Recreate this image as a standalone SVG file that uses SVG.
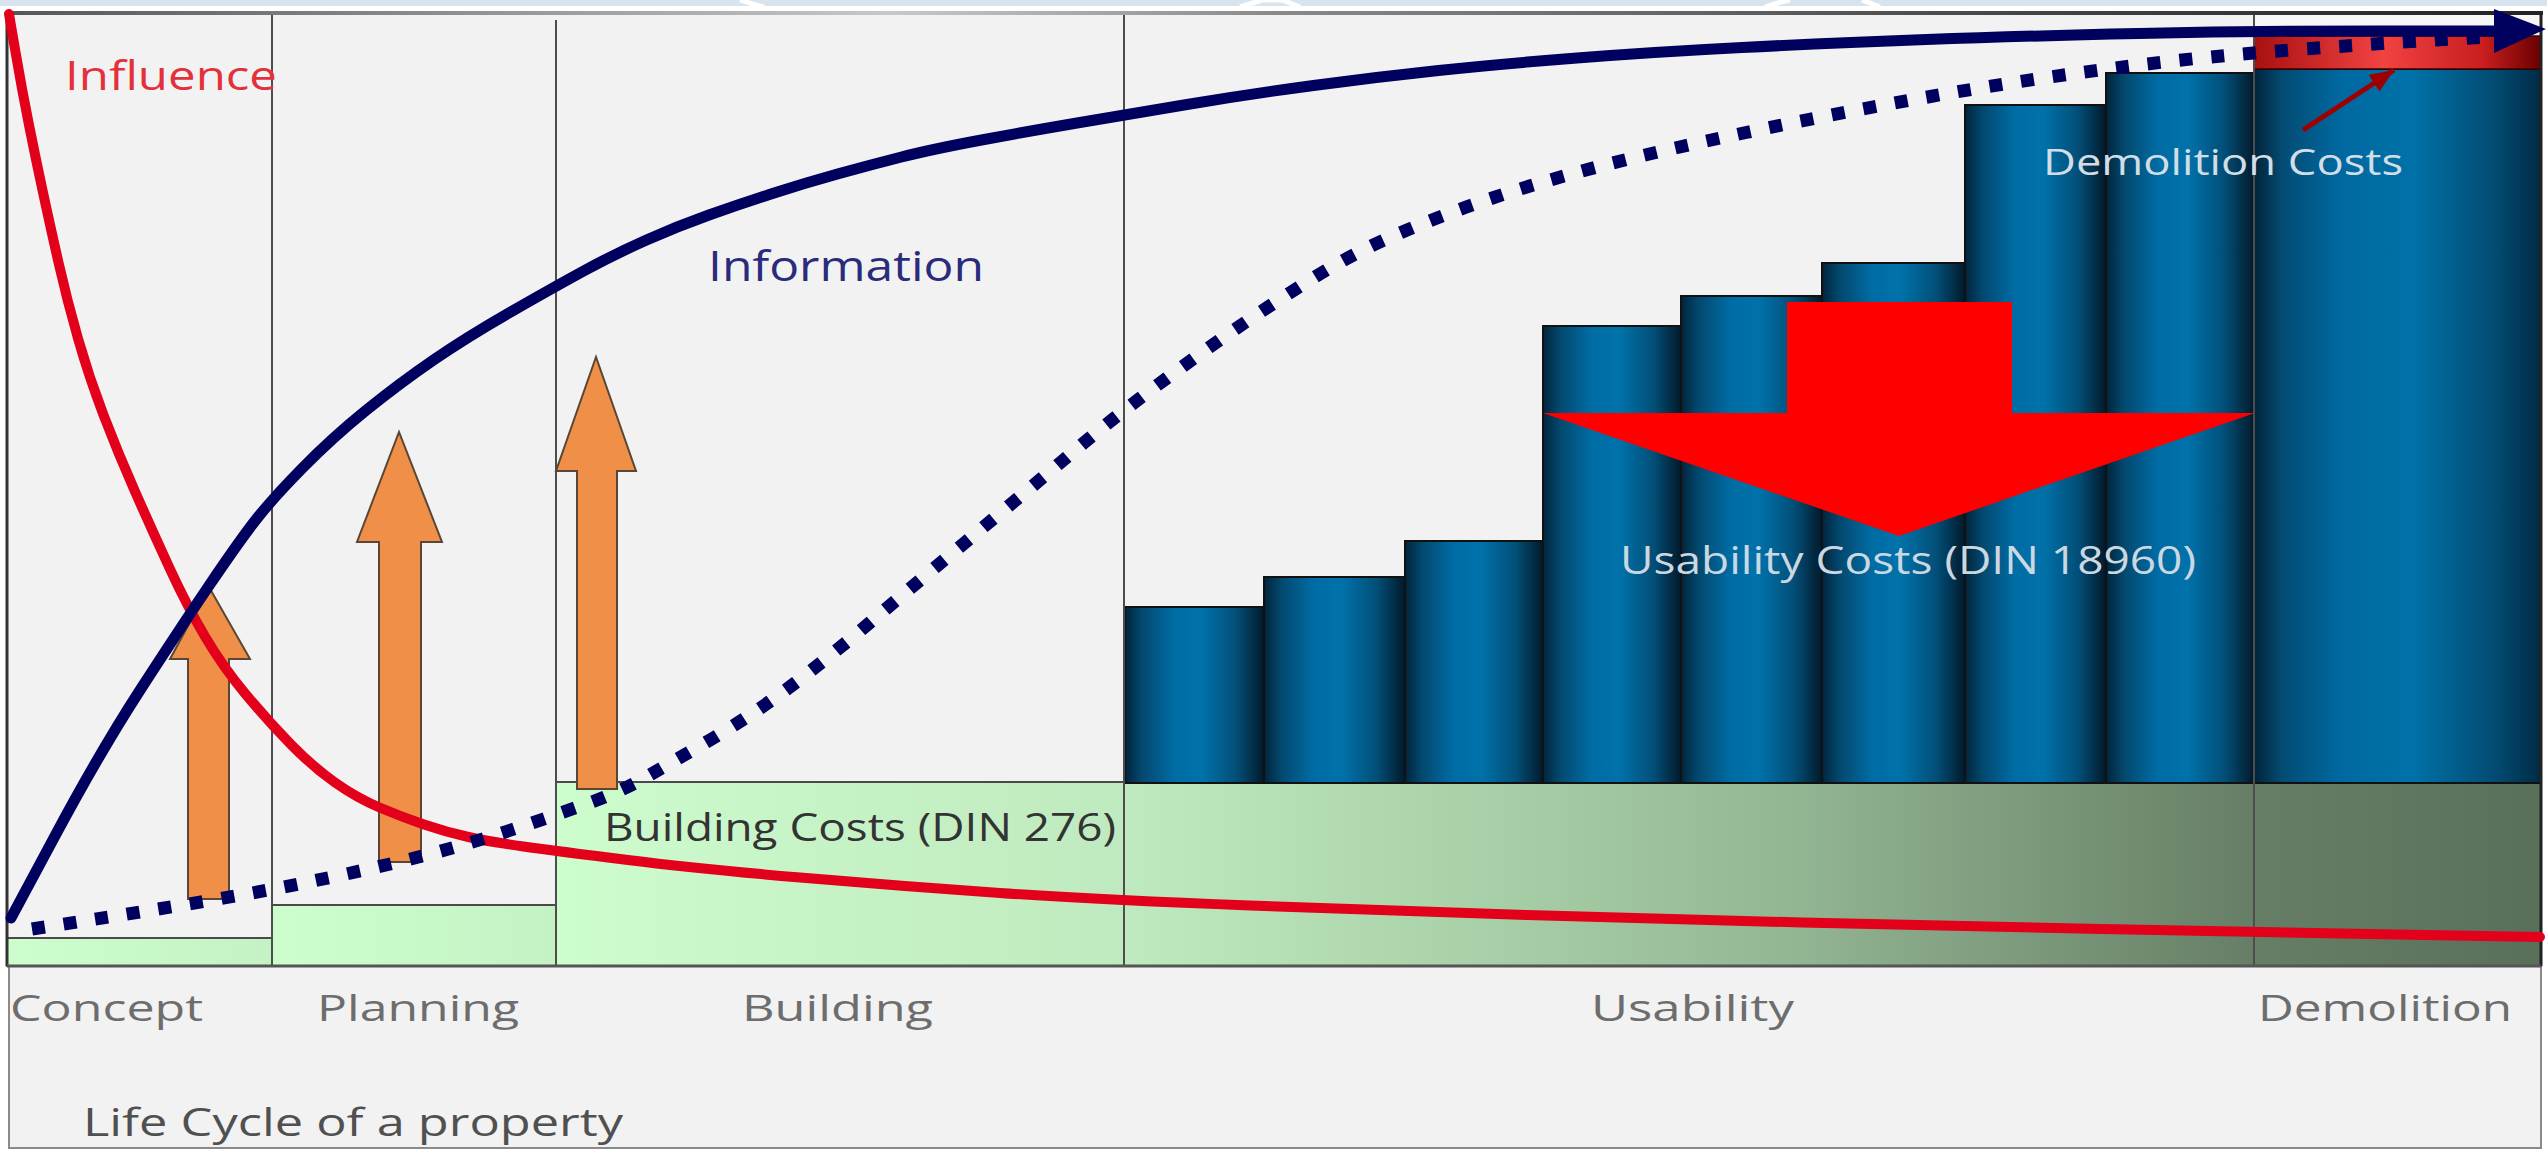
<svg xmlns="http://www.w3.org/2000/svg" width="2547" height="1153" viewBox="0 0 2547 1153">
<style>
 text{font-family:"Open Sans","Noto Sans","Liberation Sans",sans-serif;}
 .phase{font-size:36px;fill:#6d6d6d;}
 .bar{fill:url(#gBar);stroke:#111;stroke-width:2;}
 .green{stroke:#4a4a4a;stroke-width:2;}
 .vline{stroke:#4d4d4d;stroke-width:2;fill:none;}
 .orange{fill:#f08f48;stroke:#5a4636;stroke-width:2;stroke-linejoin:miter;}
 .navy{fill:none;stroke:#00005e;stroke-width:11;stroke-linejoin:round;stroke-linecap:round;}
 .dotted{fill:none;stroke:#00005e;stroke-width:13;stroke-dasharray:13 19;stroke-linejoin:round;}
 .red{fill:none;stroke:#e2001a;stroke-width:10;stroke-linejoin:round;stroke-linecap:round;}
</style>
<defs>
 <linearGradient id="gBar" x1="0" x2="1" y1="0" y2="0">
  <stop offset="0" stop-color="#01243b"/>
  <stop offset="0.12" stop-color="#03486e"/>
  <stop offset="0.35" stop-color="#006ca4"/>
  <stop offset="0.55" stop-color="#0072aa"/>
  <stop offset="0.8" stop-color="#024f78"/>
  <stop offset="1" stop-color="#021a2b"/>
 </linearGradient>
 <linearGradient id="gBarWide" x1="0" x2="1" y1="0" y2="0">
  <stop offset="0" stop-color="#01233a"/>
  <stop offset="0.1" stop-color="#034c74"/>
  <stop offset="0.3" stop-color="#0068a0"/>
  <stop offset="0.55" stop-color="#0072a9"/>
  <stop offset="0.85" stop-color="#024a70"/>
  <stop offset="1" stop-color="#012a44"/>
 </linearGradient>
 <linearGradient id="gRedBand" x1="0" x2="1" y1="0" y2="0">
  <stop offset="0" stop-color="#a81010"/>
  <stop offset="0.45" stop-color="#f24242"/>
  <stop offset="0.8" stop-color="#c81e1e"/>
  <stop offset="1" stop-color="#6a0000"/>
 </linearGradient>
 <linearGradient id="gGreenL" x1="0" x2="1" y1="0" y2="0">
  <stop offset="0" stop-color="#cdfdcd"/>
  <stop offset="1" stop-color="#c4f2c4"/>
 </linearGradient>
 <linearGradient id="gGreen" gradientUnits="userSpaceOnUse" x1="556" y1="0" x2="2541" y2="0">
  <stop offset="0" stop-color="#cdfccd"/>
  <stop offset="0.286" stop-color="#bfeabf"/>
  <stop offset="0.476" stop-color="#a7cfa7"/>
  <stop offset="0.627" stop-color="#92b592"/>
  <stop offset="0.855" stop-color="#667e66"/>
  <stop offset="1" stop-color="#5a6f5a"/>
 </linearGradient>
 <linearGradient id="gTop" gradientUnits="userSpaceOnUse" x1="0" y1="0" x2="2547" y2="0">
  <stop offset="0" stop-color="#555"/>
  <stop offset="0.35" stop-color="#c8c8c8"/>
  <stop offset="0.5" stop-color="#8a8a8a"/>
  <stop offset="0.8" stop-color="#444"/>
  <stop offset="1" stop-color="#222"/>
 </linearGradient>
 <marker id="mNavy" markerUnits="userSpaceOnUse" markerWidth="54" markerHeight="48" refX="2" refY="22" orient="auto">
  <path d="M0,0 L52,20 L0,44 Z" fill="#00005e"/>
 </marker>
 <marker id="mRed" markerUnits="userSpaceOnUse" markerWidth="26" markerHeight="22" refX="24" refY="10" orient="auto">
  <path d="M0,0 L24,10 L0,20 Z" fill="#9e0000"/>
 </marker>
</defs>

<rect x="0" y="0" width="2547" height="1153" fill="#ffffff"/>
<g id="top-strip">
 <rect x="0" y="0" width="2547" height="6" fill="#d7e4ee"/>
 <path d="M740,0 Q752,4 764,7" stroke="#fff" stroke-width="5" fill="none"/>
 <path d="M1240,7 L1262,0 L1282,0 L1300,7" stroke="#fff" stroke-width="5" fill="none"/>
 <path d="M1765,7 Q1780,2 1790,0 M1862,0 L1880,7" stroke="#fff" stroke-width="5" fill="none"/>
</g>

<g id="chart-bg">
 <rect x="7" y="13" width="2534" height="953" fill="#f2f2f2"/>
 <rect x="2254" y="13" width="287" height="25" fill="#f7f7f7"/>
</g>

<g id="label-area">
 <rect x="9" y="966" width="2532" height="182" fill="#f2f2f2" stroke="#8a8a8a" stroke-width="2"/>
</g>

<g id="cost-concept"><rect class="green" x="7" y="938" width="265" height="28" fill="url(#gGreenL)"/></g>
<g id="cost-planning"><rect class="green" x="272" y="905" width="284" height="61" fill="url(#gGreenL)"/></g>
<g id="building-costs">
 <rect class="green" x="556" y="782" width="568" height="184" fill="url(#gGreen)"/>
 <text x="604" y="841" font-size="39" fill="#333333" textLength="512" lengthAdjust="spacingAndGlyphs">Building Costs (DIN 276)</text>
</g>
<g id="cost-usability-base"><rect class="green" x="1124" y="783" width="1130" height="183" fill="url(#gGreen)"/></g>
<g id="cost-demolition-base"><rect class="green" x="2254" y="783" width="287" height="183" fill="url(#gGreen)"/></g>

<g id="usability-bars">
 <rect class="bar" x="1125" y="607" width="139" height="176"/>
 <rect class="bar" x="1264" y="577" width="141" height="206"/>
 <rect class="bar" x="1405" y="541" width="138" height="242"/>
 <rect class="bar" x="1543" y="326" width="138" height="457"/>
 <rect class="bar" x="1681" y="296" width="141" height="487"/>
 <rect class="bar" x="1822" y="263" width="143" height="520"/>
 <rect class="bar" x="1965" y="105" width="141" height="678"/>
 <rect class="bar" x="2106" y="73" width="148" height="710"/>
</g>

<g id="demolition-bar">
 <rect x="2254" y="69" width="287" height="714" fill="url(#gBarWide)" stroke="#111" stroke-width="2"/>
 <rect x="2254" y="36" width="287" height="33" fill="url(#gRedBand)" stroke="#3a0000" stroke-width="1.5"/>
</g>

<g id="grid">
 <line class="vline" x1="272" y1="13" x2="272" y2="966"/>
 <line class="vline" x1="556" y1="20" x2="556" y2="966"/>
 <line class="vline" x1="1124" y1="13" x2="1124" y2="966"/>
 <line class="vline" x1="2254" y1="13" x2="2254" y2="966"/>
 <line x1="7" y1="13" x2="7" y2="966" stroke="#333" stroke-width="3"/>
 <line x1="2541" y1="13" x2="2541" y2="966" stroke="#222" stroke-width="3"/>
 <line x1="7" y1="966" x2="2541" y2="966" stroke="#555" stroke-width="3"/>
 <line x1="5" y1="13" x2="2543" y2="13" stroke="url(#gTop)" stroke-width="4"/>
</g>

<g id="orange-arrows">
 <polygon class="orange" points="188,899 229,899 229,659 250,659 209,587 170,659 188,659"/>
 <polygon class="orange" points="379,862 421,862 421,542 442,542 399,432 357,542 379,542"/>
 <polygon class="orange" points="577,789 617,789 617,471 636,471 596,357 556,471 577,471"/>
</g>

<g id="usability-arrow">
 <polygon points="1787,302 2012,302 2012,413 2255,413 1899,536 1543,413 1787,413" fill="#ff0000"/>
 <text x="1620" y="574" font-size="38" fill="#cbd8e2" textLength="576" lengthAdjust="spacingAndGlyphs">Usability Costs (DIN 18960)</text>
</g>

<g id="demolition-label">
 <text x="2043" y="175" font-size="37" fill="#d2dde6" textLength="360" lengthAdjust="spacingAndGlyphs">Demolition Costs</text>
</g>

<g id="connectors">
 <path id="influence-curve" class="red" d="M9,14 L15.5,52 Q22,90 29,125 Q36,160 43,192.5 Q50,225 58.5,262.5 Q67,300 78,338.5 Q89,377 103.5,415 Q118,453 135,491.5 Q152,530 169.5,568 Q187,606 205,636.5 Q223,667 245.5,694 Q268,721 290.5,744 Q313,767 335,782.5 Q357,798 379.5,807.5 Q402,817 424,824.5 Q446,832 468.5,837 Q491,842 523.5,846.5 Q556,851 628,860 Q700,869 800,877.5 Q900,886 1000,893 Q1100,900 1250,905.5 Q1400,911 1527,915 Q1654,919 1802,922.5 Q1950,926 2102,929 Q2254,932 2397,934.5 L2540,937"/>
 <path id="cost-curve" class="dotted" d="M32,929 L86.5,920.5 Q141,912 206.5,901 Q272,890 337,876 Q402,862 446.5,849.5 Q491,837 526,825 Q561,813 590.5,802.5 Q620,792 647,776.5 Q674,761 701.5,745 Q729,729 754.5,712 Q780,695 810,671.5 Q840,648 870,622.5 Q900,597 934,568.5 Q968,540 1004.5,509.5 Q1041,479 1076,449.5 Q1111,420 1149.5,391 Q1188,362 1229,333.5 Q1270,305 1312.5,278.5 Q1355,252 1400,233 Q1445,214 1492.5,198 Q1540,182 1597,167 Q1654,152 1746,132.5 Q1838,113 1930.5,96.5 Q2023,80 2115,68 Q2207,56 2303.5,49 Q2400,42 2445,39.5 L2490,37"/>
 <path id="information-curve" class="navy" marker-end="url(#mNavy)" d="M11,918 L55.5,835 Q100,752 139.5,691 Q179,630 209.5,585 Q240,540 256.5,519 Q273,498 303,467.5 Q333,437 366.5,410 Q400,383 433.5,360 Q467,337 511.5,311.5 Q556,286 585.5,270 Q615,254 646.5,240 Q678,226 709,215 Q740,204 772.5,193.5 Q805,183 837.5,174 Q870,165 901.5,157 Q933,149 981.5,140 Q1030,131 1077,123 Q1124,115 1187,104.5 Q1250,94 1313.5,85.5 Q1377,77 1438.5,70.5 Q1500,64 1577,58 Q1654,52 1742,47.5 Q1830,43 1926.5,39.5 Q2023,36 2138.5,33.5 Q2254,31 2375,31 L2496,31"/>
 <line id="demolition-pointer" x1="2303" y1="130" x2="2394" y2="70" stroke="#9e0000" stroke-width="5" marker-end="url(#mRed)"/>
</g>

<g id="influence-label">
 <text x="65" y="90" font-size="41" fill="#e3313b" textLength="212" lengthAdjust="spacingAndGlyphs">Influence</text>
</g>
<g id="information-label">
 <text x="708" y="281" font-size="42" fill="#2b2b7c" textLength="276" lengthAdjust="spacingAndGlyphs">Information</text>
</g>

<g id="phase-labels">
 <text class="phase" x="10" y="1021" textLength="193" lengthAdjust="spacingAndGlyphs">Concept</text>
 <text class="phase" x="317" y="1021" textLength="202" lengthAdjust="spacingAndGlyphs">Planning</text>
 <text class="phase" x="742" y="1021" textLength="191" lengthAdjust="spacingAndGlyphs">Building</text>
 <text class="phase" x="1591" y="1021" textLength="203" lengthAdjust="spacingAndGlyphs">Usability</text>
 <text class="phase" x="2258" y="1021" textLength="254" lengthAdjust="spacingAndGlyphs">Demolition</text>
</g>
<g id="axis-title">
 <text x="83" y="1136" font-size="38" fill="#505050" textLength="540" lengthAdjust="spacingAndGlyphs">Life Cycle of a property</text>
</g>
</svg>
